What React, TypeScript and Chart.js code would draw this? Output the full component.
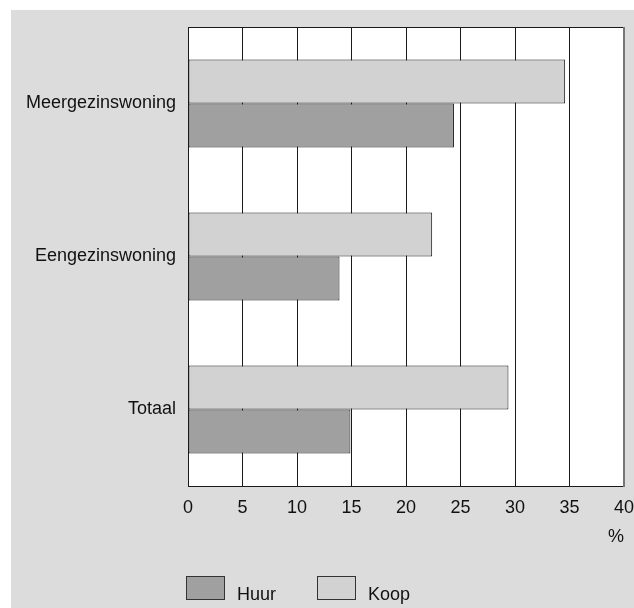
import React, { useEffect, useRef } from "react";
import { Chart, registerables } from "chart.js";

Chart.register(...registerables);

const categories = ["Meergezinswoning", "Eengezinswoning", "Totaal"];
const koopValues = [34.6, 22.4, 29.4];
const huurValues = [24.4, 13.9, 14.9];
const seriesLabels = { koop: "Koop", huur: "Huur" };
const xMin = 0;
const xMax = 40;
const xStep = 5;
const unitLabel = "%";

const FONT = "'Liberation Sans', Arial, Helvetica, sans-serif";
const BG = "#dcdcdc";
const KOOP_COLOR = "#d2d2d2";
const HUUR_COLOR = "#a0a0a0";
const LINE = "#1a1a1a";

const bgPlugin = {
  id: "bgFill",
  beforeDraw(chart: any) {
    const ctx = chart.ctx;
    ctx.save();
    ctx.fillStyle = BG;
    ctx.fillRect(0, 0, chart.width, chart.height);
    const a = chart.chartArea;
    ctx.fillStyle = "#ffffff";
    ctx.fillRect(a.left, a.top, a.right - a.left, a.bottom - a.top);
    ctx.restore();
  },
  afterDraw(chart: any) {
    const ctx = chart.ctx;
    const a = chart.chartArea;
    ctx.save();
    ctx.strokeStyle = LINE;
    ctx.lineWidth = 1;
    ctx.beginPath();
    ctx.moveTo(Math.round(a.left) + 0.5, Math.round(a.top) + 0.5);
    ctx.lineTo(Math.round(a.right) + 0.5, Math.round(a.top) + 0.5);
    ctx.moveTo(Math.round(a.left) + 0.5, Math.round(a.bottom) + 0.5);
    ctx.lineTo(Math.round(a.right) + 0.5, Math.round(a.bottom) + 0.5);
    ctx.stroke();
    ctx.strokeStyle = "#777";
    ctx.lineWidth = 2;
    ctx.beginPath();
    ctx.moveTo(Math.round(a.right), Math.round(a.top));
    ctx.lineTo(Math.round(a.right), Math.round(a.bottom) + 1);
    ctx.stroke();

    // legend (Huur first, then Koop)
    const items = [...chart.data.datasets].reverse();
    let x = Math.round(a.left) - 2;
    const boxY = 566;
    ctx.font = `18px ${FONT}`;
    ctx.textBaseline = "alphabetic";
    ctx.textAlign = "left";
    items.forEach((ds: any) => {
      ctx.fillStyle = ds.backgroundColor;
      ctx.fillRect(x + 0.5, boxY + 0.5, 38, 23);
      ctx.strokeStyle = "#333";
      ctx.lineWidth = 1;
      ctx.strokeRect(x + 0.5, boxY + 0.5, 38, 23);
      ctx.fillStyle = "#111";
      ctx.fillText(ds.label, x + 51, 590);
      x += 131;
    });
    ctx.restore();
  },
};

function zeroPadding(scale: any) {
  scale.paddingTop = 0;
  scale.paddingBottom = 0;
  scale.paddingLeft = 0;
  scale.paddingRight = 0;
}

export default function App() {
  const ref = useRef<HTMLCanvasElement | null>(null);

  useEffect(() => {
    if (!ref.current) return;
    const chart = new Chart(ref.current, {
      type: "bar",
      data: {
        labels: categories,
        datasets: [
          {
            label: seriesLabels.koop,
            data: koopValues,
            backgroundColor: KOOP_COLOR,
            borderColor: LINE,
            borderWidth: 1,
            borderSkipped: false,
            categoryPercentage: 0.575,
            barPercentage: 1,
          },
          {
            label: seriesLabels.huur,
            data: huurValues,
            backgroundColor: HUUR_COLOR,
            borderColor: LINE,
            borderWidth: 1,
            borderSkipped: false,
            categoryPercentage: 0.575,
            barPercentage: 1,
          },
        ],
      },
      options: {
        indexAxis: "y",
        responsive: false,
        animation: false,
        layout: { padding: { top: 17, right: 10, left: 0, bottom: 59 } },
        plugins: {
          legend: { display: false },
          tooltip: { enabled: false },
        },
        scales: {
          x: {
            min: xMin,
            max: xMax,
            ticks: {
              stepSize: xStep,
              padding: 11,
              color: "#111",
              font: { family: FONT, size: 18 },
            },
            grid: { color: LINE, lineWidth: 1, drawTicks: false },
            border: { display: false },
            title: {
              display: true,
              text: unitLabel,
              align: "end",
              color: "#111",
              font: { family: FONT, size: 18 },
              padding: { top: 0, bottom: 1 },
            },
            afterFit(scale: any) {
              scale.height = 63;
              zeroPadding(scale);
            },
          },
          y: {
            ticks: {
              padding: 12,
              color: "#111",
              font: { family: FONT, size: 18 },
            },
            grid: { display: false, drawTicks: false },
            border: { display: true, color: LINE, width: 1 },
            afterFit(scale: any) {
              scale.width = 177;
              zeroPadding(scale);
            },
          },
        },
      } as any,
      plugins: [bgPlugin],
    });
    return () => chart.destroy();
  }, []);

  return (
    <div style={{ position: "absolute", left: 0, top: 0, width: 634, height: 608, background: "#fff" }}>
      <canvas
        ref={ref}
        width={623}
        height={598}
        style={{ position: "absolute", left: 11, top: 10, width: 623, height: 598 }}
      />
    </div>
  );
}
